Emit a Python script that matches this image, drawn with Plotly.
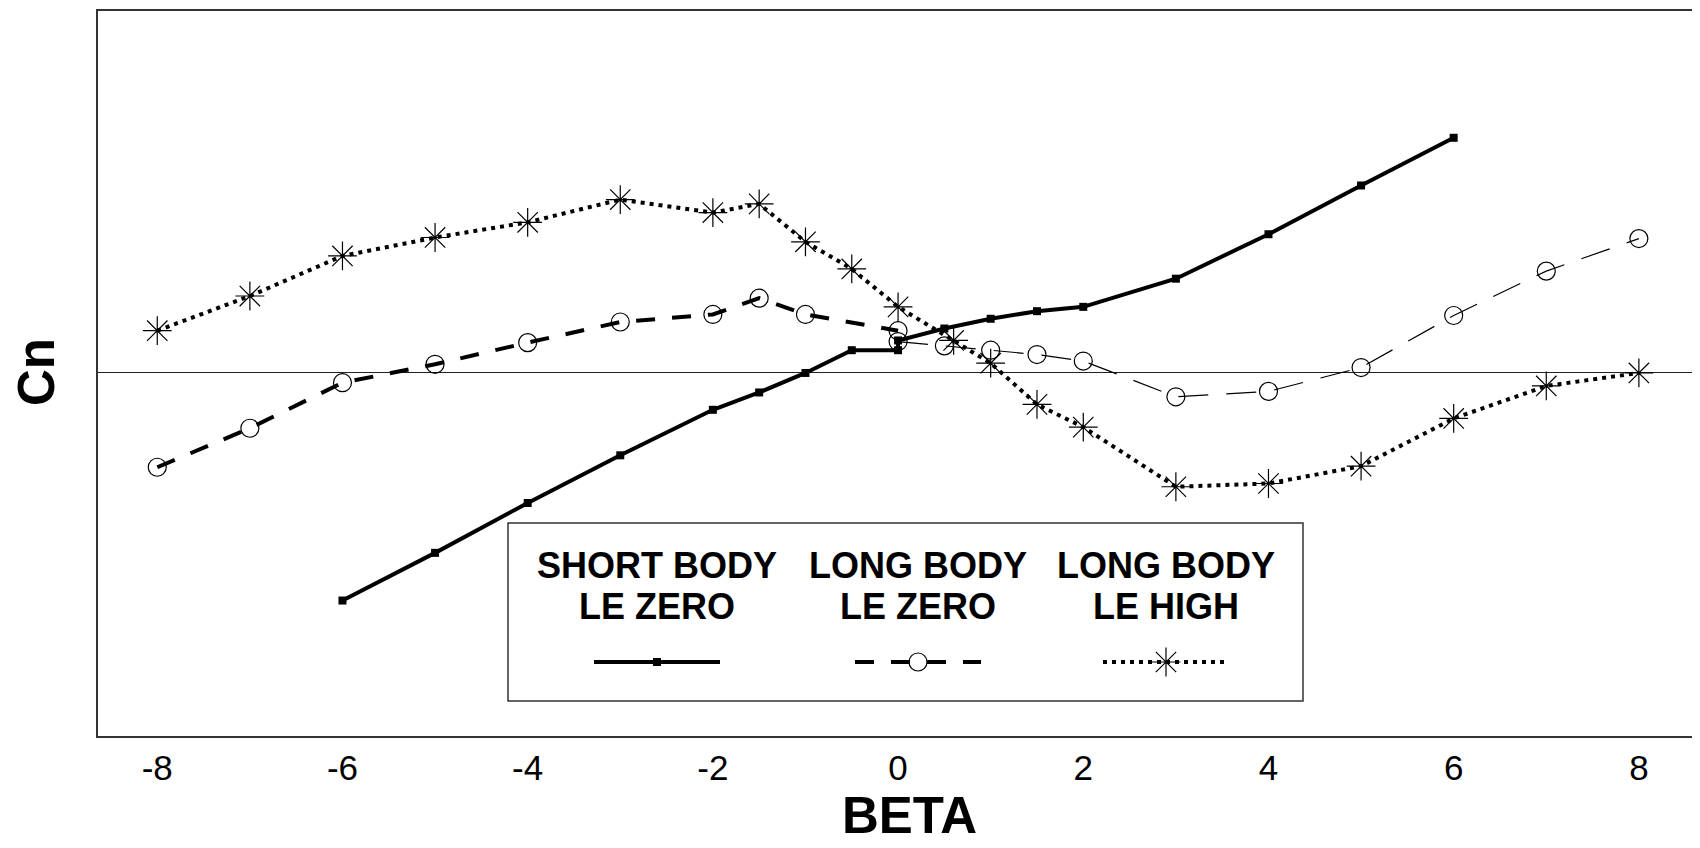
import plotly.graph_objects as go

# Cn (arbitrary units, 0 = the horizontal reference line)
sb_beta = [-6, -5, -4, -3, -2, -1.5, -1, -0.5, 0, 0, 0.5, 1, 1.5, 2, 3, 4, 5, 6]
sb_cn = [-2.10, -1.66, -1.20, -0.76, -0.34, -0.18, 0.0, 0.21, 0.21, 0.30,
         0.41, 0.50, 0.57, 0.61, 0.87, 1.28, 1.73, 2.17]

# long body, LE zero: negative sweep drawn heavy, positive sweep thin
lbn_beta = [-8, -7, -6, -5, -4, -3, -2, -1.5, -1, 0]
lbn_cn = [-0.87, -0.51, -0.09, 0.08, 0.28, 0.47, 0.54, 0.69, 0.54, 0.39]
lbp_beta = [0, 0.5, 1, 1.5, 2, 3, 4, 5, 6, 7, 8]
lbp_cn = [0.29, 0.25, 0.21, 0.17, 0.11, -0.22, -0.17, 0.05, 0.53, 0.94, 1.24]

lh_beta = [-8, -7, -6, -5, -4, -3, -2, -1.5, -1, -0.5, 0, 0.6, 1, 1.5, 2, 3, 4, 5, 6, 7, 8]
lh_cn = [0.39, 0.71, 1.08, 1.25, 1.39, 1.60, 1.48, 1.56, 1.21, 0.96, 0.61,
         0.30, 0.09, -0.29, -0.50, -1.05, -1.02, -0.86, -0.42, -0.12, 0.0]

x_ticks = [-8, -6, -4, -2, 0, 2, 4, 6, 8]
legend_top = ["SHORT BODY", "LONG BODY", "LONG BODY"]
legend_bottom = ["LE ZERO", "LE ZERO", "LE HIGH"]

FONT = "Liberation Sans, Arial, sans-serif"
# the page body has an 8px margin, so the figure is offset by 8px
W, H = 1692, 840
L, T, B = 90, 3, 112
PW, PH = W - L, H - T - B


def px(x):
    return (x - L) / PW


def py(y):
    return (H - B - y) / PH


solid = dict(color="black", width=4)
heavy_dash = dict(color="black", width=4, dash="19px,17px")
thin_dash = dict(color="black", width=1.2, dash="30px,18px")
dotted = dict(color="black", width=4, dash="4px,5px")
sq = dict(symbol="square", size=8, color="black")
circ = dict(symbol="circle-open", size=18, color="black", line=dict(width=1.2, color="black"))
star = dict(symbol="asterisk-open", size=24, color="black", line=dict(width=1.2, color="black"))

fig = go.Figure()
fig.add_trace(go.Scatter(x=sb_beta, y=sb_cn, mode="lines+markers", line=solid, marker=sq))
fig.add_trace(go.Scatter(x=lbn_beta, y=lbn_cn, mode="lines+markers", line=heavy_dash, marker=circ))
fig.add_trace(go.Scatter(x=lbp_beta, y=lbp_cn, mode="lines+markers", line=thin_dash, marker=circ))
fig.add_trace(go.Scatter(x=lh_beta, y=lh_cn, mode="lines+markers", line=dotted, marker=star))

# legend box; samples drawn on a pixel overlay axis
box = (500, 515, 1295, 693)
cols = [649, 910, 1158]
half = 63
sample_y = 654
styles = [(solid, sq), (heavy_dash, circ), (dotted, star)]
fig.add_shape(type="rect", xref="paper", yref="paper", x0=px(box[0]), y0=py(box[1]),
              x1=px(box[2]), y1=py(box[3]), line=dict(color="#333", width=1.5), layer="below")
for c, (ln, mk) in zip(cols, styles):
    fig.add_trace(go.Scatter(x=[c - half, c, c + half], y=[sample_y] * 3, xaxis="x2", yaxis="y2",
                             mode="lines", line=ln))
    fig.add_trace(go.Scatter(x=[c], y=[sample_y], xaxis="x2", yaxis="y2", mode="markers", marker=mk))
for c, t1, t2 in zip(cols, legend_top, legend_bottom):
    fig.add_annotation(x=px(c), y=py(557), xref="paper", yref="paper", text="<b>%s</b>" % t1,
                       showarrow=False, font=dict(family=FONT, size=36, color="black"),
                       xanchor="center", yanchor="middle")
    fig.add_annotation(x=px(c), y=py(598), xref="paper", yref="paper", text="<b>%s</b>" % t2,
                       showarrow=False, font=dict(family=FONT, size=36, color="black"),
                       xanchor="center", yanchor="middle")

# axis titles
fig.add_annotation(x=px(901), y=py(807), xref="paper", yref="paper", text="<b>BETA</b>",
                   showarrow=False, font=dict(family=FONT, size=51, color="black"),
                   xanchor="center", yanchor="middle")
fig.add_annotation(x=px(28), y=py(364), xref="paper", yref="paper", text="<b>Cn</b>",
                   showarrow=False, textangle=-90, font=dict(family=FONT, size=51, color="black"),
                   xanchor="center", yanchor="middle")

fig.update_layout(
    width=W, height=H, autosize=False,
    margin=dict(l=L, r=0, t=T, b=B, pad=0),
    paper_bgcolor="white", plot_bgcolor="white",
    showlegend=False,
    font=dict(family=FONT, color="black"),
    xaxis=dict(range=[-8.64, 8.66], tickvals=x_ticks, ticktext=[str(v) for v in x_ticks],
               showgrid=False, zeroline=False, showline=True, mirror=True,
               linecolor="#333", linewidth=1.5, ticks="", tickfont=dict(size=35)),
    yaxis=dict(range=[-3.35, 3.34], showgrid=False, showticklabels=False, ticks="",
               zeroline=True, zerolinecolor="#222", zerolinewidth=1,
               showline=True, linecolor="#333", linewidth=1.5),
    xaxis2=dict(overlaying="x", range=[L, W], visible=False, fixedrange=True),
    yaxis2=dict(overlaying="y", range=[H - B, T], visible=False, fixedrange=True),
)

fig.write_html("out.html")
